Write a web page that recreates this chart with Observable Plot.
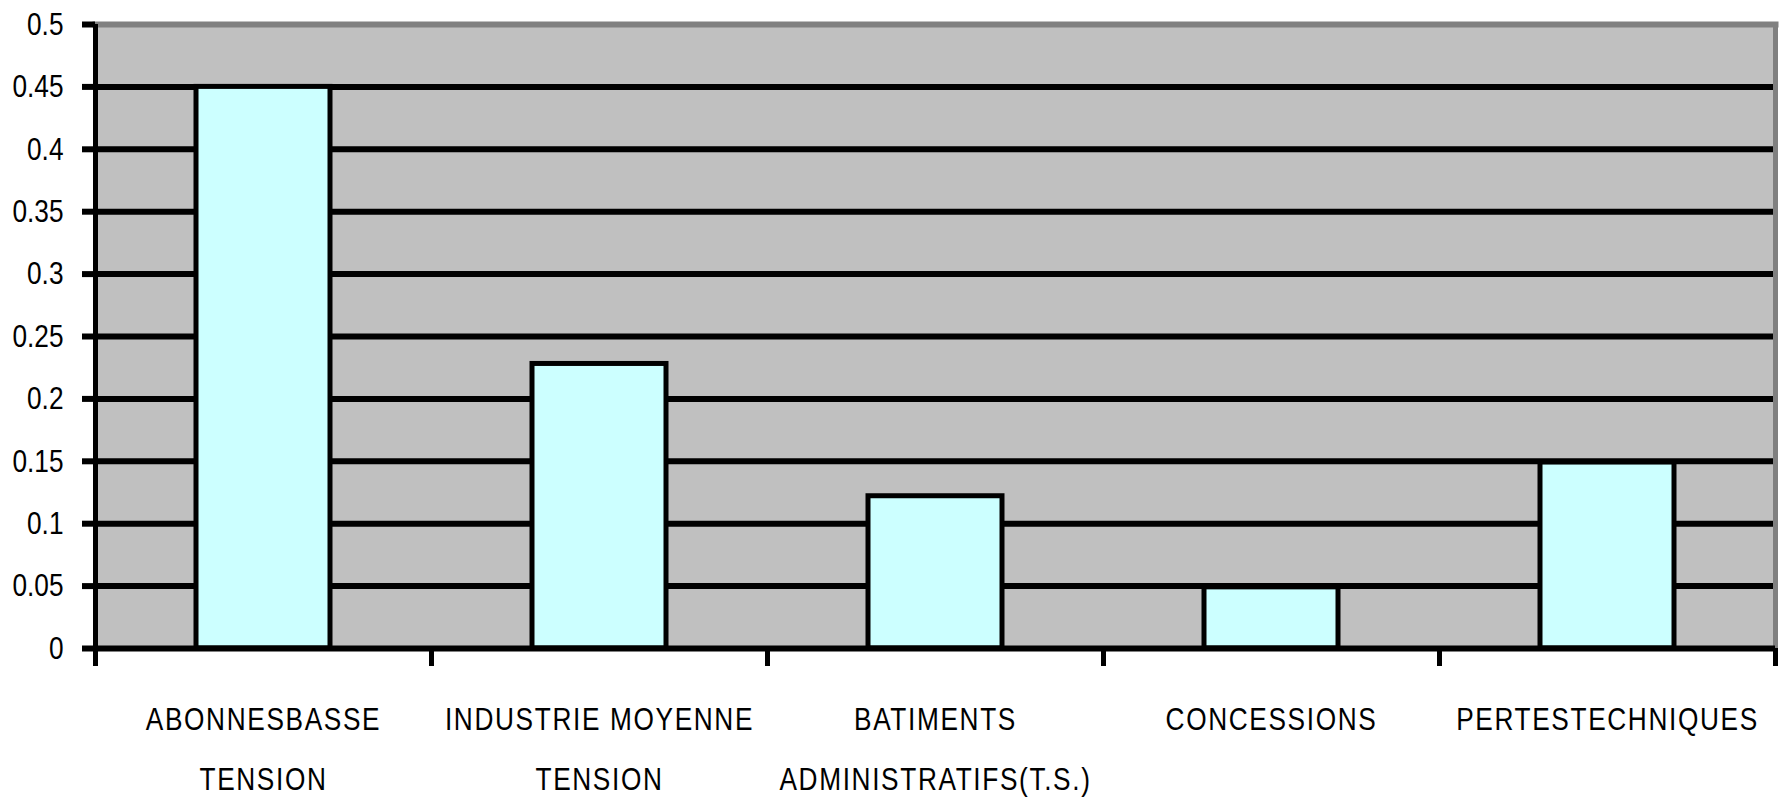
<!DOCTYPE html>
<html>
<head>
<meta charset="utf-8">
<script src="https://cdn.jsdelivr.net/npm/d3@7"></script>
<script src="https://cdn.jsdelivr.net/npm/@observablehq/plot@0.6"></script>
<style>
  html, body { margin: 0; padding: 0; background: #fff; }
  #chart svg { display: block; }
</style>
</head>
<body>
<div id="chart"></div>
<script>
const categories = [
  "ABONNESBASSE\nTENSION",
  "INDUSTRIE MOYENNE\nTENSION",
  "BATIMENTS\nADMINISTRATIFS(T.S.)",
  "CONCESSIONS",
  "PERTESTECHNIQUES"
];
const values = [0.45, 0.228, 0.122, 0.049, 0.149];
const yTicks = [0, 0.05, 0.1, 0.15, 0.2, 0.25, 0.3, 0.35, 0.4, 0.45, 0.5];

const data = categories.map((c, i) => ({ i, label: c, value: values[i] }));
const boundaries = d3.range(categories.length + 1);
const fontStack = '"Liberation Sans Narrow", "Arial Narrow", "Liberation Sans", Arial, sans-serif';

const chart = Plot.plot({
  width: 1787,
  height: 798,
  marginLeft: 95,
  marginRight: 12,
  marginTop: 24,
  marginBottom: 150,
  style: { fontFamily: fontStack, fontSize: "32px", color: "#000", background: "#fff", overflow: "visible" },
  x: { domain: [0, categories.length] },
  y: { domain: [0, 0.5] },
  marks: [
    Plot.frame({ fill: "#c0c0c0", stroke: null }),
    Plot.ruleY(yTicks.filter(t => t > 0 && t < 0.5), { stroke: "#000", strokeWidth: 6 }),
    Plot.rectY(data, {
      x1: "i", x2: d => d.i + 1, y: "value",
      fill: "#ccffff", stroke: "#000", strokeWidth: 5,
      insetLeft: 101, insetRight: 101
    }),
    Plot.frame({ anchor: "top", stroke: "#808080", strokeWidth: 6 }),
    Plot.frame({ anchor: "right", stroke: "#808080", strokeWidth: 5 }),
    Plot.ruleY([0], { stroke: "#000", strokeWidth: 6 }),
    Plot.ruleX([0], { stroke: "#000", strokeWidth: 5 }),
    Plot.axisY({
      ticks: yTicks, tickSize: 13, tickPadding: 19,
      tickFormat: d => String(+d.toFixed(2)),
      strokeWidth: 6, label: null, fontSize: 32, fill: "#000"
    }),
    Plot.axisX({
      ticks: boundaries, tickSize: 18, tickFormat: () => "",
      strokeWidth: 5, label: null
    }),
    Plot.text(data, {
      x: d => d.i + 0.5, y: () => 0, text: "label",
      lineAnchor: "top", dy: 39, lineHeight: 1.875,
      fontSize: 32, fill: "#000"
    })
  ]
});

document.getElementById("chart").appendChild(chart);

// condense the text horizontally (narrow typeface look)
function condense(sel, k) {
  sel.each(function () {
    const t = this.getAttribute("transform");
    if (t) {
      this.setAttribute("transform", t + ` scale(${k},1)`);
    } else {
      const x = +(this.getAttribute("x") || 0), y = +(this.getAttribute("y") || 0);
      this.setAttribute("transform", `translate(${x},${y}) scale(${k},1)`);
      this.setAttribute("x", 0); this.setAttribute("y", 0);
    }
  });
}
const svg = d3.select(chart);
const cat = svg.selectAll('g[aria-label="text"] text').style("letter-spacing", "2px");
condense(cat, 0.82);
condense(svg.selectAll('g[aria-label="y-axis tick label"] text'), 0.82);
</script>
</body>
</html>
